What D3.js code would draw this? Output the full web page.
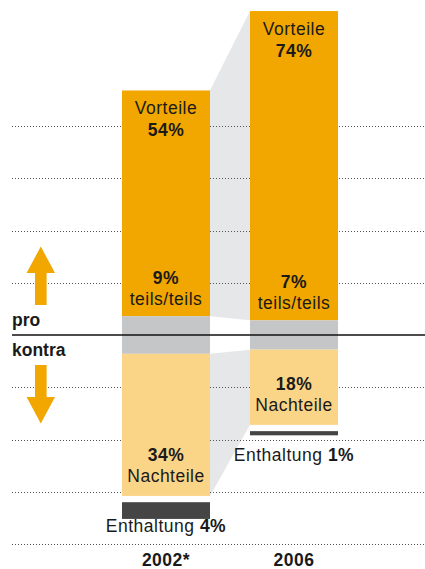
<!DOCTYPE html>
<meta charset="utf-8">
<script src="https://d3js.org/d3.v7.min.js"></script>
<style>
  body { margin: 0; background: #fff; }
  text { font-family: "Liberation Sans", Arial, sans-serif; fill: #1a1a1a; }
</style>
<body>
<div id="chart"></div>
<script>
// data
var years = ["2002*", "2006"];
var vorteile = [54, 74];
var teils = [9, 7];
var nachteile = [34, 18];
var enthaltung = [4, 1];
var gridTicks = [-50, -37.5, -25, -12.5, 12.5, 25, 37.5, 50];

var width = 425, height = 569;

var svg = d3.select("#chart").append("svg")
    .attr("width", width)
    .attr("height", height);

var x = d3.scaleBand()
    .domain(years)
    .range([122, 338])
    .paddingInner(0.3125)
    .paddingOuter(0);

// teils/teils is centred on the pro/kontra line
var y = d3.scaleLinear()
    .domain([-50, 50])
    .range([544, 126]);

var colOrange = "#f2a600",
    colLight = "#fad587",
    colMid = "#c5c6c8",
    colLink = "#e6e7e9",
    colDark = "#454545";

var rows = years.map(function(yr, i) {
  return {year: yr, v: vorteile[i], t: teils[i], n: nachteile[i], e: enthaltung[i]};
});

// grey connector between the two columns
var a = rows[0], b = rows[1];
var xa = x(a.year) + x.bandwidth(), xb = x(b.year);
svg.append("polygon")
    .attr("points", [
      [xa, y(a.t / 2 + a.v)], [xb, y(b.t / 2 + b.v)],
      [xb, y(b.t / 2)], [xa, y(a.t / 2)]
    ].join(" "))
    .attr("fill", colLink);
svg.append("polygon")
    .attr("points", [
      [xa, y(-a.t / 2)], [xb, y(-b.t / 2)],
      [xb, y(-b.t / 2 - b.n)], [xa, y(-a.t / 2 - a.n)]
    ].join(" "))
    .attr("fill", colLink);

// dotted grid
svg.selectAll(".grid")
  .data(gridTicks)
  .enter().append("line")
    .attr("class", "grid")
    .attr("x1", 12).attr("x2", width)
    .attr("y1", function(d) { return Math.round(y(d)) + 0.5; })
    .attr("y2", function(d) { return Math.round(y(d)) + 0.5; })
    .attr("stroke", "#555")
    .attr("stroke-width", 1)
    .attr("stroke-dasharray", "1,2");

var g = svg.selectAll(".col")
  .data(rows)
  .enter().append("g")
    .attr("class", "col");

function rect(sel, top, bottom, color) {
  sel.append("rect")
    .attr("x", function(d) { return x(d.year); })
    .attr("width", x.bandwidth())
    .attr("y", function(d) { return y(top(d)); })
    .attr("height", function(d) { return y(bottom(d)) - y(top(d)); })
    .attr("fill", color);
}

rect(g, function(d) { return d.t / 2 + d.v; }, function(d) { return d.t / 2; }, colOrange);
rect(g, function(d) { return d.t / 2; }, function(d) { return -d.t / 2; }, colMid);
rect(g, function(d) { return -d.t / 2; }, function(d) { return -d.t / 2 - d.n; }, colLight);
// Enthaltung, a little below the Nachteile block
rect(g, function(d) { return -d.t / 2 - d.n - 1.5; }, function(d) { return -d.t / 2 - d.n - 1.5 - d.e; }, colDark);

// pro / kontra line
svg.append("line")
    .attr("x1", 12).attr("x2", width)
    .attr("y1", y(0)).attr("y2", y(0))
    .attr("stroke", "#111")
    .attr("stroke-width", 1.4);

// labels
function cx(d) { return x(d.year) + x.bandwidth() / 2; }
function label(sel, txt, yy, bold) {
  sel.append("text")
    .attr("x", cx)
    .attr("y", yy)
    .attr("text-anchor", "middle")
    .style("font-size", "17.5px")
    .style("letter-spacing", "0.5px")
    .style("font-weight", bold ? "bold" : "normal")
    .text(txt);
}

label(g, "Vorteile", function(d) { return y(d.t / 2 + d.v) + 24; });
label(g, function(d) { return d.v + "%"; }, function(d) { return y(d.t / 2 + d.v) + 46; }, true);
label(g, function(d) { return d.t + "%"; }, function(d) { return y(d.t / 2) - 32; }, true);
label(g, "teils/teils", function(d) { return y(d.t / 2) - 11; });
label(g, function(d) { return d.n + "%"; }, function(d) { return y(-d.t / 2 - d.n) - 35; }, true);
label(g, "Nachteile", function(d) { return y(-d.t / 2 - d.n) - 14; });

var enth = g.append("text")
    .attr("x", cx)
    .attr("y", function(d) { return y(-d.t / 2 - d.n) + 36; })
    .attr("text-anchor", "middle")
    .style("font-size", "17.5px")
    .style("letter-spacing", "0.5px");
enth.append("tspan").text("Enthaltung ");
enth.append("tspan").style("font-weight", "bold").text(function(d) { return d.e + "%"; });

label(g, function(d) { return d.year; }, 566, true);

// pro / kontra captions and arrows
svg.append("text").attr("x", 12).attr("y", y(0) - 9)
    .style("font-size", "17.5px").style("font-weight", "bold").text("pro");
svg.append("text").attr("x", 12).attr("y", y(0) + 21)
    .style("font-size", "17.5px").style("font-weight", "bold").text("kontra");

var z = y(0);
var ax = 40.8;
var arrowUp = [[ax, z - 88.5], [ax + 14.2, z - 62], [ax + 5.8, z - 62], [ax + 5.8, z - 30],
               [ax - 5.8, z - 30], [ax - 5.8, z - 62], [ax - 14.2, z - 62]];
var arrowDown = arrowUp.map(function(p) { return [p[0], 2 * z - p[1]]; });
svg.selectAll(".arrow")
  .data([arrowUp, arrowDown])
  .enter().append("polygon")
    .attr("class", "arrow")
    .attr("points", function(d) { return d.join(" "); })
    .attr("fill", colOrange);
</script>
</body>
